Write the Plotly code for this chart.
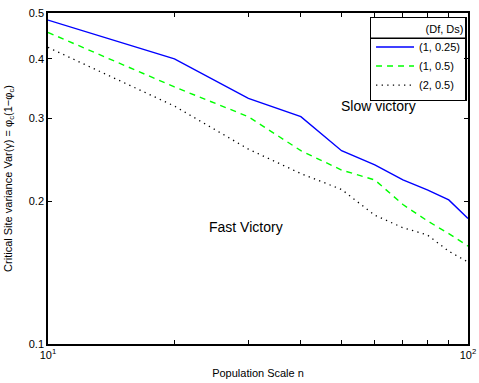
import plotly.graph_objs as go

# Population scale n
pop_scale = [10, 20, 30, 40, 50, 60, 70, 80, 90, 100]

# Critical site variance for each (Df, Ds) pair
var_1_025 = [0.483, 0.400, 0.330, 0.302, 0.256, 0.239, 0.222, 0.2115, 0.2015, 0.184]
var_1_05 = [0.455, 0.349, 0.302, 0.256, 0.233, 0.222, 0.197, 0.182, 0.171, 0.161]
var_2_05 = [0.423, 0.318, 0.258, 0.229, 0.212, 0.187, 0.176, 0.170, 0.157, 0.149]

series_names = ['(1, 0.25)', '(1, 0.5)', '(2, 0.5)']

x_tickvals = [10, 20, 30, 40, 50, 60, 70, 80, 90, 100]
x_ticktext = ['10<sup>1</sup>', '', '', '', '', '', '', '', '', '10<sup>2</sup>']
y_tickvals = [0.1, 0.2, 0.3, 0.4, 0.5]
y_ticktext = ['0.1', '0.2', '0.3', '0.4', '0.5']

FONT = 'Liberation Sans, Arial, Helvetica, sans-serif'

fig = go.Figure()
fig.add_trace(go.Scatter(x=pop_scale, y=var_1_025, name=series_names[0], mode='lines',
                         line=dict(color='#0000FF', width=1.4)))
fig.add_trace(go.Scatter(x=pop_scale, y=var_1_05, name=series_names[1], mode='lines',
                         line=dict(color='#00FF00', width=1.4, dash='6px,5px')))
fig.add_trace(go.Scatter(x=pop_scale, y=var_2_05, name=series_names[2], mode='lines',
                         line=dict(color='#000000', width=1.3, dash='1.3px,4.3px')))

axis_common = dict(showline=True, linecolor='black', linewidth=1.5, mirror='allticks',
                   ticks='inside', ticklen=4, tickwidth=1, tickcolor='black',
                   showgrid=False, zeroline=False, automargin=False,
                   tickfont=dict(family=FONT, size=11, color='black'))

fig.update_xaxes(type='log', range=[1, 2], tickmode='array', tickvals=x_tickvals,
                 ticktext=x_ticktext,
                 title=dict(text='Population Scale n', font=dict(family=FONT, size=11, color='black'),
                            standoff=9),
                 **axis_common)
fig.update_yaxes(type='log', range=[-1, -0.30103], tickmode='array', tickvals=y_tickvals,
                 ticktext=y_ticktext,
                 title=dict(text='Critical Site variance Var(\u03b3) = \u03c6<sub>c</sub>(1\u2212\u03c6<sub>c</sub>)',
                            font=dict(family=FONT, size=11, color='black'), standoff=14),
                 **axis_common)

fig.add_annotation(x=1.786, y=-0.497, text='Slow victory', showarrow=False,
                   font=dict(family=FONT, size=14, color='black'))
fig.add_annotation(x=1.471, y=-0.753, text='Fast Victory', showarrow=False,
                   font=dict(family=FONT, size=14, color='black'))

# separator under the legend title
fig.add_shape(type='line', xref='paper', yref='paper', x0=0.768, x1=0.997, y0=0.9235, y1=0.9235,
              line=dict(color='black', width=1.5))

fig.update_layout(
    width=479, height=383,
    margin=dict(l=48, r=11, t=13, b=39),
    paper_bgcolor='white', plot_bgcolor='white',
    font=dict(family=FONT, size=11, color='black'),
    legend=dict(x=0.997, y=0.988, xanchor='right', yanchor='top',
                bordercolor='black', borderwidth=1.3, bgcolor='rgba(0,0,0,0)',
                title=dict(text='(Df, Ds)', side='top right', font=dict(family=FONT, size=11)),
                font=dict(family=FONT, size=11), tracegroupgap=0, itemwidth=38),
    showlegend=True,
)

# drop the default page margin so the figure sits at the window's corner
fig.write_html('out.html', config={'displayModeBar': False},
               post_script="document.body.style.margin='0px';")
